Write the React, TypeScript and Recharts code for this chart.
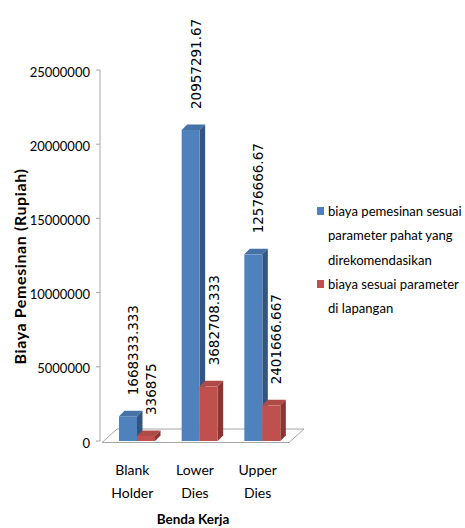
import { BarChart, Bar, XAxis, YAxis, Legend, LabelList, ReferenceLine } from 'recharts';

const categories = ['Blank Holder', 'Lower Dies', 'Upper Dies'];
const recommendedCost = [1668333.333, 20957291.67, 12576666.67];
const fieldCost = [336875, 3682708.333, 2401666.667];
const yTicks = [0, 5000000, 10000000, 15000000, 20000000, 25000000];
// legend text, broken where the legend wraps it
const seriesNames = [
  'biaya pemesinan sesuai\nparameter pahat yang\ndirekomendasikan',
  'biaya sesuai parameter\ndi lapangan',
];

const data = categories.map((name, i) => ({
  name,
  recommended: recommendedCost[i],
  field: fieldCost[i],
}));

const SANS = 'Lato, "Liberation Sans", Arial, sans-serif';
const DEPTH = 5.5;

const palette = {
  recommended: { front: '#4f81bd', top: '#4672a8', side: '#34557f' },
  field: { front: '#c0504d', top: '#b04a47', side: '#8b3533' },
};

// front face + top + right side, Excel style 3D column
const Bar3D = (props: any) => {
  const { x, y, width, height, colors } = props;
  if (width == null || height == null) return null;
  const d = DEPTH;
  return (
    <g>
      <polygon
        points={`${x},${y} ${x + d},${y - d} ${x + width + d},${y - d} ${x + width},${y}`}
        fill={colors.top}
      />
      <polygon
        points={`${x + width},${y} ${x + width + d},${y - d} ${x + width + d},${y + height - d} ${x + width},${y + height}`}
        fill={colors.side}
      />
      <rect x={x} y={y} width={width} height={height} fill={colors.front} />
    </g>
  );
};

const Floor = (props: any) => {
  const x1 = props.x1 ?? props.viewBox?.x ?? 100;
  const x2 = props.x2 ?? x1 + (props.viewBox?.width ?? 204);
  const y = props.y1 ?? props.viewBox?.y ?? 441;
  const front = y + 1.5;
  const back = y - 12;
  return (
    <polygon
      points={`${x1 + 2},${front} ${x1 + 17},${back} ${x2},${back} ${x2 - 15},${front}`}
      fill="#ffffff"
      stroke="#a6a6a6"
      strokeWidth={1}
    />
  );
};

const ValueLabel = (props: any) => {
  const { x, y, width, value } = props;
  const cx = x + width / 2 + 5;
  const ty = y - 21;
  return (
    <text
      x={cx}
      y={ty}
      transform={`rotate(-90, ${cx}, ${ty})`}
      textAnchor="start"
      dominantBaseline="central"
      fontFamily='"DejaVu Sans", Verdana, sans-serif'
      fontSize={13.5}
      fill="#000"
    >
      {String(value)}
    </text>
  );
};

const CategoryTick = (props: any) => {
  const { x, y, payload } = props;
  const words = String(payload.value).split(' ');
  return (
    <g>
      {words.map((w, i) => (
        <text
          key={w}
          x={x - 5}
          y={y + 20 + i * 23}
          textAnchor="middle"
          dominantBaseline="central"
          fontFamily={SANS}
          fontSize={14}
          fill="#000"
        >
          {w}
        </text>
      ))}
    </g>
  );
};

const LegendBox = () => (
  <div
    style={{
      fontFamily: SANS,
      fontSize: 13.1,
      lineHeight: '24.3px',
      color: '#000',
      width: 147,
    }}
  >
    {seriesNames.map((n, i) => (
      <div key={n} style={{ display: 'flex', alignItems: 'flex-start' }}>
        <span
          style={{
            width: 7,
            height: 8,
            marginTop: 8,
            marginRight: 4,
            flex: 'none',
            background: i === 0 ? palette.recommended.front : palette.field.front,
          }}
        />
        <span style={{ whiteSpace: 'pre' }}>{n}</span>
      </div>
    ))}
  </div>
);

const YTitle = (props: any) => {
  const vb = props.viewBox || { x: 0, y: 70, width: 100, height: 371 };
  const cx = vb.x + 19;
  const cy = vb.y + vb.height / 2 + 11;
  return (
    <text
      x={cx}
      y={cy}
      transform={`rotate(-90, ${cx}, ${cy})`}
      textAnchor="middle"
      dominantBaseline="central"
      fontFamily={SANS}
      fontWeight="bold"
      fontSize={16}
      letterSpacing={0.6}
      fill="#000"
    >
      Biaya Pemesinan (Rupiah)
    </text>
  );
};

export default function App() {
  return (
    <div style={{ position: 'absolute', left: 0, top: 0, width: 465, height: 528, background: '#fff', overflow: 'hidden' }}>
      <BarChart
        width={465}
        height={528}
        data={data}
        margin={{ top: 70, right: 14, bottom: 0, left: 0 }}
        barGap={0}
      >
        <XAxis
          dataKey="name"
          height={87}
          axisLine={false}
          tickLine={false}
          padding={{ left: 6, right: 10 }}
          tick={<CategoryTick />}
          interval={0}
          label={{
            value: 'Benda Kerja',
            position: 'insideBottom',
            offset: 4,
            dx: -9,
            style: { fontFamily: SANS, fontWeight: 'bold', fontSize: 13.5, fill: '#000' },
          }}
        />
        <YAxis
          width={100}
          domain={[0, 25000000]}
          ticks={yTicks}
          interval={0}
          tickFormatter={(v: number) => String(v)}
          axisLine={{ stroke: '#a6a6a6' }}
          tickLine={{ stroke: '#a6a6a6' }}
          tickSize={4}
          tickMargin={6}
          tick={{ fontFamily: SANS, fontSize: 13, fill: '#000', dy: 2 }}
          label={<YTitle />}
        />
        <ReferenceLine y={0} shape={<Floor />} zIndex={-1} ifOverflow="visible" />
        <Legend
          content={<LegendBox />}
          layout="vertical"
          align="right"
          verticalAlign="middle"
          width={147}
          wrapperStyle={{ left: 317, top: 199, width: 147 }}
        />
        <Bar
          dataKey="recommended"
          name={seriesNames[0]}
          barSize={18}
          isAnimationActive={false}
          shape={(p: any) => <Bar3D {...p} colors={palette.recommended} />}
        >
          <LabelList dataKey="recommended" content={<ValueLabel />} />
        </Bar>
        <Bar
          dataKey="field"
          name={seriesNames[1]}
          barSize={18}
          isAnimationActive={false}
          shape={(p: any) => <Bar3D {...p} colors={palette.field} />}
        >
          <LabelList dataKey="field" content={<ValueLabel />} />
        </Bar>
      </BarChart>
    </div>
  );
}
